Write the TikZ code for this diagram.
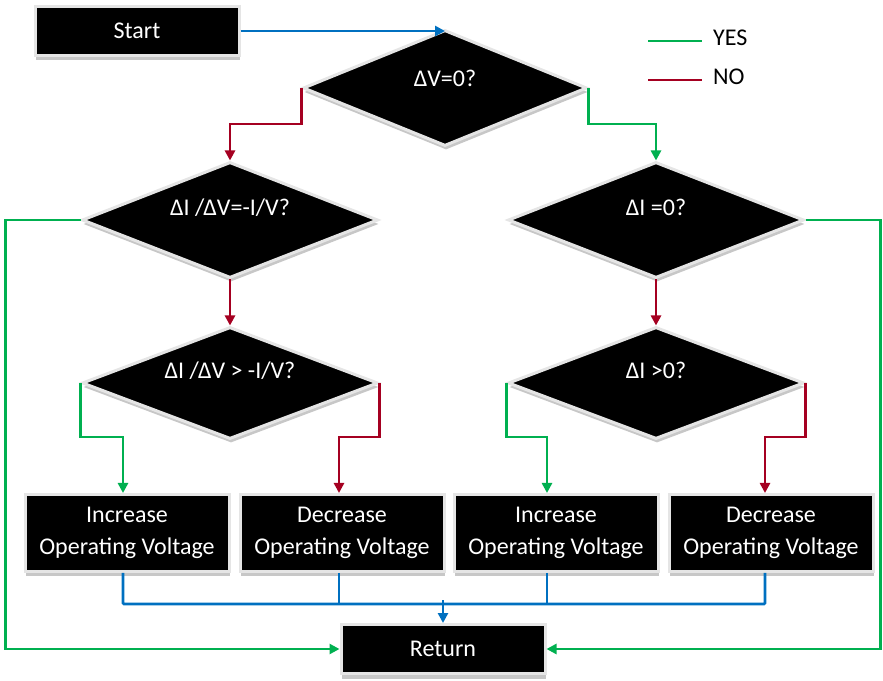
\documentclass[tikz,border=0pt]{standalone}
\usepackage{fontspec}
\setmainfont{Carlito}
\usetikzlibrary{positioning,arrows.meta,shapes.geometric,shadows}
\tikzset{>={Triangle[length=10pt,width=10pt]}}
\definecolor{yescol}{RGB}{0,176,80}
\definecolor{nocol}{RGB}{165,0,33}
\definecolor{flowcol}{RGB}{0,112,192}

\tikzset{
    box/.style={rectangle, fill=black, draw=black!10, line width=3pt,
        text=white, align=center, minimum width=204pt, inner sep=0pt,
        drop shadow={shadow xshift=1pt, shadow yshift=-5pt, fill=black!22, opacity=1}},
    decision/.style={diamond, aspect=2.6, fill=black, draw=black!10, line width=3pt,
        text=white, minimum width=296pt, minimum height=116pt, inner sep=0pt,
        text height=16pt, text depth=24pt,
        drop shadow={shadow xshift=1pt, shadow yshift=-4pt, fill=black!22, opacity=1}},
    yes/.style={yescol, line width=2.8pt},
    no/.style={nocol, line width=2.8pt},
    flow/.style={flowcol, line width=2.8pt, rounded corners=1pt}
}

\begin{document}
\begin{tikzpicture}[x=1pt, y=1pt, font=\fontsize{24}{32}\selectfont]
    \useasboundingbox (0,0) rectangle (883,680);

    % Process boxes
    \node[box, minimum height=49pt] (start) at (137,649) {Start};
    \node[box, minimum height=77pt] (inc1) at (127,147) {Increase\\Operating Voltage};
    \node[box, minimum height=77pt] (dec1) at (342,147) {Decrease\\Operating Voltage};
    \node[box, minimum height=77pt] (inc2) at (556,147) {Increase\\Operating Voltage};
    \node[box, minimum height=77pt] (dec2) at (771,147) {Decrease\\Operating Voltage};
    \node[box, minimum height=49pt] (ret) at (443,31) {Return};

    % Decisions
    \node[decision, minimum width=284pt, text depth=18pt] (dv) at (445,592) {ΔV=0?};
    \node[decision] (dicond) at (230,460) {ΔI /ΔV=-I/V?};
    \node[decision] (dizero) at (656,460) {ΔI =0?};
    \node[decision, minimum height=112pt] (dislope) at (230,297) {ΔI /ΔV > -I/V?};
    \node[decision, minimum height=112pt] (dipos) at (656,297) {ΔI >0?};

    % Legend
    \coordinate (yesA) at (648,639);
    \coordinate (yesB) at (702,639);
    \coordinate (noA) at (648,600);
    \coordinate (noB) at (702,600);
    \draw[yes] (yesA) -- (yesB);
    \draw[no] (noA) -- (noB);
    \node[anchor=west, inner sep=0pt] (yeslbl) at (713,642) {YES};
    \node[anchor=west, inner sep=0pt] (nolbl) at (713,603) {NO};

    % Start into first test
    \draw[flow, ->] (start.east) -- (start.east -| dv.north);

    % Branches of the first test
    \draw[no, ->] (dv.west) -- ++(0,-36) -| (dicond.north);
    \draw[yes, ->] (dv.east) -- ++(0,-36) -| (dizero.north);

    % Second level
    \draw[no, ->] (dicond.south) -- (dislope.north);
    \draw[no, ->] (dizero.south) -- (dipos.north);
    \draw[yes, ->] (dicond.west) -- ++(-75,0) |- (ret.west);
    \draw[yes, ->] (dizero.east) -- ++(75,0) |- (ret.east);

    % Third level into the voltage steps
    \draw[yes, ->] (dislope.west) -- ++(0,-54) -| ([xshift=-4pt]inc1.north);
    \draw[no, ->] (dislope.east) -- ++(0,-54) -| ([xshift=-3pt]dec1.north);
    \draw[yes, ->] (dipos.west) -- ++(0,-54) -| ([xshift=-9pt]inc2.north);
    \draw[no, ->] (dipos.east) -- ++(0,-54) -| ([xshift=-6pt]dec2.north);

    % Collect everything into Return
    \draw[flow] ([xshift=-4pt]inc1.south) -- ++(0,-31) -| ([xshift=-6pt]dec2.south);
    \draw[flow] ([xshift=-3pt]dec1.south) -- ++(0,-31);
    \draw[flow] ([xshift=-9pt]inc2.south) -- ++(0,-31);
    \draw[flow, ->] ([yshift=23pt]ret.north) -- (ret.north);
\end{tikzpicture}
\end{document}
